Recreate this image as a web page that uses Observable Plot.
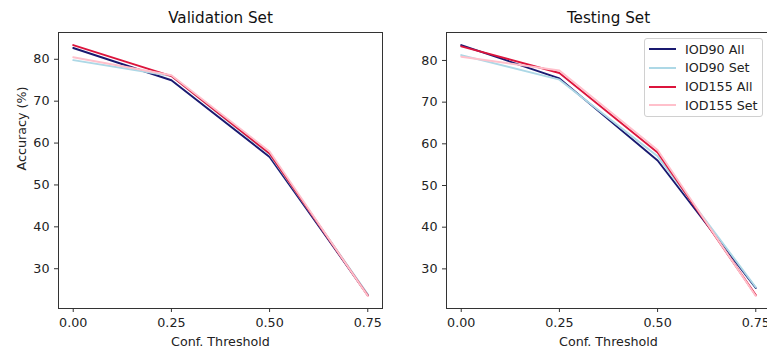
<!DOCTYPE html>
<html>
<head>
<meta charset="utf-8">
<script src="https://cdn.jsdelivr.net/npm/d3@7"></script>
<script src="https://cdn.jsdelivr.net/npm/@observablehq/plot@0.6"></script>
<style>
  html, body { margin: 0; padding: 0; background: #fff; }
  body { width: 767px; height: 349px; overflow: hidden; position: relative; font-family: "DejaVu Sans", sans-serif; }
  .panel { position: absolute; top: 0; width: 390px; height: 349px; }
  .panel svg { max-width: none !important; width: 390px !important; height: 349px !important; font-family: "DejaVu Sans", sans-serif; }
  .legend { position: absolute; left: 644px; top: 38px; width: 119px; height: 79px; border: 1px solid #d0d0d0; border-radius: 3px; background: rgba(255,255,255,0.85); box-sizing: border-box; }
  .legend .row { position: absolute; left: 0; height: 19px; display: flex; align-items: center; font-size: 12.7px; color: #222; white-space: nowrap; }
  .legend .swatch { width: 27px; height: 0; border-top: 2px solid; margin-left: 4px; margin-right: 9px; }
</style>
</head>
<body>
<div id="left" class="panel" style="left:0px"></div>
<div id="right" class="panel" style="left:388px"></div>
<div id="legend" class="legend"></div>
<script>
// Data
const thresholds = [0, 0.25, 0.5, 0.75];
const seriesNames = ["IOD90 All", "IOD90 Set", "IOD155 All", "IOD155 Set"];
const seriesColors = ["#191970", "#add8e6", "#dc143c", "#ffc0cb"];

const validationIOD90All = [82.7, 75.0, 56.7, 23.7];
const validationIOD90Set = [79.8, 76.0, 57.3, 23.9];
const validationIOD155All = [83.4, 76.0, 57.5, 23.6];
const validationIOD155Set = [80.5, 76.2, 58.0, 23.5];

const testingIOD90All = [83.7, 75.7, 56.0, 25.4];
const testingIOD90Set = [81.3, 75.4, 57.0, 25.6];
const testingIOD155All = [83.4, 77.0, 57.9, 23.7];
const testingIOD155Set = [80.9, 77.6, 58.5, 23.5];

const xTicks = [0, 0.25, 0.5, 0.75];
const yTicks = [30, 40, 50, 60, 70, 80];

function toRows(seriesList) {
  const rows = [];
  seriesList.forEach((vals, i) => {
    vals.forEach((v, j) => rows.push({series: seriesNames[i], x: thresholds[j], y: v}));
  });
  return rows;
}

function padDomain(values) {
  const [lo, hi] = d3.extent(values);
  const m = (hi - lo) * 0.05;
  return [lo - m, hi + m];
}

function panel(title, seriesList, showYLabel) {
  const rows = toRows(seriesList);
  const xd = padDomain(thresholds);
  const yd = padDomain(rows.map(d => d.y));
  const marks = [
    Plot.frame({stroke: "#333", strokeWidth: 1}),
    Plot.axisX({ticks: xTicks, tickFormat: d3.format(".2f"), tickSize: 4, tickPadding: 5, label: null, stroke: "#333", fill: "#222", fontSize: 12.7}),
    Plot.axisY({ticks: yTicks, tickSize: 4, tickPadding: 5, label: null, stroke: "#333", fill: "#222", fontSize: 12.7}),
  ];
  seriesNames.forEach((name, i) => {
    marks.push(Plot.line(rows.filter(d => d.series === name), {x: "x", y: "y", stroke: seriesColors[i], strokeWidth: 1.9}));
  });
  marks.push(Plot.text([title], {frameAnchor: "top", dy: -14, fontSize: 15.2, lineAnchor: "middle", fill: "#111"}));
  marks.push(Plot.text(["Conf. Threshold"], {frameAnchor: "bottom", dy: 33, fontSize: 12.7, lineAnchor: "middle", fill: "#222"}));
  if (showYLabel) {
    marks.push(Plot.text(["Accuracy (%)"], {frameAnchor: "left", dx: -37, rotate: -90, fontSize: 12.7, fill: "#222"}));
  }
  return Plot.plot({
    width: 390,
    height: 349,
    marginLeft: 58,
    marginRight: 8,
    marginTop: 32,
    marginBottom: 41,
    style: {fontFamily: "DejaVu Sans, sans-serif", fontSize: "12.7px", background: "transparent", overflow: "visible", maxWidth: "none"},
    x: {domain: xd},
    y: {domain: yd},
    marks
  });
}

document.getElementById("left").appendChild(panel("Validation Set", [validationIOD90All, validationIOD90Set, validationIOD155All, validationIOD155Set], true));
document.getElementById("right").appendChild(panel("Testing Set", [testingIOD90All, testingIOD90Set, testingIOD155All, testingIOD155Set], false));

const legend = document.getElementById("legend");
seriesNames.forEach((name, i) => {
  const row = document.createElement("div");
  row.className = "row";
  row.style.top = (0.5 + i * 18.8) + "px";
  const sw = document.createElement("div");
  sw.className = "swatch";
  sw.style.borderTopColor = seriesColors[i];
  row.appendChild(sw);
  const t = document.createElement("span");
  t.textContent = name;
  row.appendChild(t);
  legend.appendChild(row);
});
</script>
</body>
</html>
